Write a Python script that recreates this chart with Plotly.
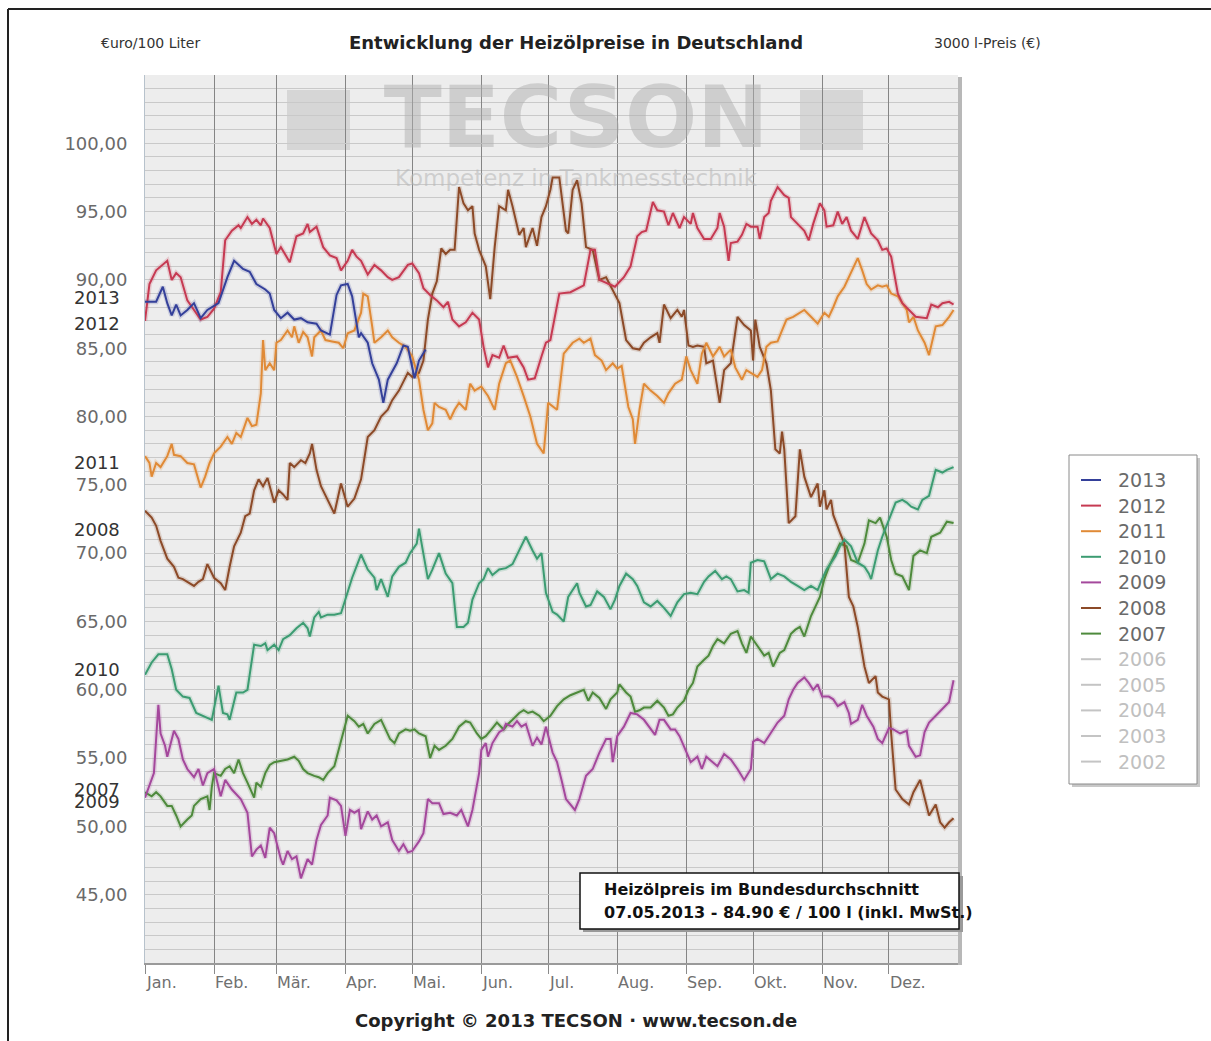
import plotly.graph_objects as go

# ---------------------------------------------------------------------------
# Achsen / Beschriftungen
# ---------------------------------------------------------------------------
month_start_days = [0, 31, 59, 90, 120, 151, 181, 212, 243, 273, 304, 334]
month_labels = ["Jan.", "Feb.", "Mär.", "Apr.", "Mai.", "Jun.", "Jul.",
                "Aug.", "Sep.", "Okt.", "Nov.", "Dez."]
price_ticks = [45, 50, 55, 60, 65, 70, 75, 80, 85, 90, 95, 100]      # €/100 l
tank_ticks = [1350, 1500, 1650, 1800, 1950, 2100, 2250, 2400, 2550, 2700, 2850, 3000]  # 3000 l
legend_years = ["2013", "2012", "2011", "2010", "2009", "2008", "2007",
                "2006", "2005", "2004", "2003", "2002"]

# Jahresbeschriftung links (Preis zum Jahresbeginn)
start_label_years = ["2013", "2012", "2011", "2008", "2010", "2007", "2009"]
start_label_values = [88.7, 86.8, 76.6, 71.7, 61.5, 52.7, 51.8]

# ---------------------------------------------------------------------------
# Heizölpreise (Tag im Jahr, €/100 l)
# ---------------------------------------------------------------------------
day_2013 = [0, 5, 8, 10, 12, 14, 16, 19, 22, 25, 28, 30, 33, 37, 40, 44, 47, 50, 54,
            56, 58, 61, 64, 67, 70, 73, 77, 79, 83, 86, 88, 91, 93, 96, 97, 100, 102,
            105, 107, 109, 113, 116, 118, 121, 123, 126]
price_2013 = [88.4, 88.4, 89.5, 88.3, 87.4, 88.2, 87.4, 87.8, 88.3, 87.2, 87.8, 88.0,
              88.3, 90.2, 91.4, 90.8, 90.6, 89.7, 89.3, 89.0, 87.8, 87.2, 87.6, 87.1,
              87.2, 86.9, 86.8, 86.3, 86.0, 88.9, 89.6, 89.7, 88.8, 85.8, 86.1, 85.4,
              83.9, 82.7, 81.0, 82.7, 83.9, 85.2, 85.1, 82.8, 84.1, 84.9]

day_2012 = [0, 2, 5, 7, 10, 12, 14, 16, 19, 22, 25, 28, 31, 34, 36, 39, 42, 43, 46, 48,
            50, 52, 53, 56, 59, 61, 65, 68, 71, 73, 74, 77, 80, 83, 86, 88, 91, 93, 95,
            97, 100, 103, 106, 109, 111, 114, 118, 120, 123, 125, 128, 131, 134, 136,
            138, 141, 144, 147, 150, 152, 154, 156, 159, 161, 163, 167, 170, 172, 175,
            178, 180, 182, 186, 191, 197, 200, 202, 204, 208, 211, 215, 218, 221, 223,
            225, 228, 230, 233, 235, 237, 240, 242, 245, 246, 248, 251, 254, 257, 258,
            260, 262, 263, 266, 268, 270, 272, 275, 276, 278, 280, 281, 284, 287, 289,
            290, 293, 296, 298, 300, 303, 305, 306, 309, 311, 313, 315, 317, 320, 323,
            326, 329, 331, 333, 335, 338, 340, 343, 346, 351, 353, 356, 358, 361, 363]
price_2012 = [87.0, 89.7, 90.7, 91.0, 91.4, 90.0, 90.5, 90.2, 88.5, 87.8, 87.1, 87.3,
              87.9, 89.1, 92.9, 93.6, 94.0, 93.8, 94.6, 94.1, 94.4, 94.0, 94.5, 93.8,
              91.9, 92.4, 91.3, 93.2, 93.4, 94.1, 93.5, 93.9, 92.4, 91.8, 91.6, 90.7,
              91.4, 92.2, 91.7, 91.4, 90.4, 91.1, 90.7, 90.2, 90.0, 90.2, 91.1, 91.2,
              90.5, 89.4, 88.9, 88.5, 88.0, 88.4, 87.1, 86.6, 86.9, 87.6, 87.1, 85.1,
              83.6, 84.5, 84.3, 85.2, 84.3, 84.4, 83.6, 82.7, 82.8, 84.4, 85.4, 85.6,
              89.0, 89.1, 89.6, 92.2, 92.2, 90.0, 89.7, 89.5, 90.2, 91.0, 93.2, 93.5,
              93.6, 95.7, 95.1, 95.0, 94.0, 94.9, 93.8, 94.6, 94.1, 94.9, 93.8, 93.0,
              93.0, 93.8, 94.9, 93.9, 91.4, 92.7, 92.8, 93.3, 94.1, 93.9, 93.9, 93.0,
              94.6, 94.9, 95.8, 96.8, 96.2, 96.0, 94.6, 94.1, 93.6, 92.9, 94.1, 95.6,
              95.1, 93.9, 94.0, 95.0, 94.1, 94.6, 93.6, 93.0, 94.6, 93.4, 92.9, 92.2,
              92.3, 91.7, 89.0, 88.3, 87.8, 87.3, 87.2, 88.2, 88.0, 88.3, 88.4, 88.2]

day_2011 = [0, 2, 3, 5, 7, 10, 12, 13, 16, 19, 22, 25, 27, 29, 31, 34, 37, 39, 41, 43,
            46, 48, 50, 52, 53, 54, 56, 58, 59, 61, 64, 66, 67, 69, 71, 73, 75, 76, 79,
            81, 84, 87, 89, 91, 94, 97, 98, 100, 102, 103, 106, 109, 111, 114, 117, 120,
            123, 125, 127, 129, 130, 132, 135, 137, 139, 141, 144, 146, 148, 151, 154,
            157, 159, 162, 164, 167, 170, 173, 176, 179, 181, 185, 188, 192, 195, 197,
            200, 202, 205, 207, 210, 212, 214, 217, 219, 220, 222, 224, 227, 230, 233,
            235, 238, 241, 243, 245, 248, 250, 252, 255, 258, 260, 263, 265, 268, 270,
            272, 275, 277, 279, 281, 284, 286, 288, 291, 294, 296, 299, 302, 305, 307,
            309, 311, 314, 317, 320, 322, 324, 326, 329, 331, 333, 335, 338, 342, 343,
            345, 347, 350, 352, 355, 358, 361, 363]
price_2011 = [77.1, 76.6, 75.6, 76.6, 76.3, 77.1, 78.0, 77.2, 77.1, 76.6, 76.5, 74.8,
              75.6, 76.6, 77.3, 77.8, 78.5, 78.0, 78.8, 78.5, 79.9, 79.3, 79.4, 81.7,
              85.6, 83.4, 83.9, 83.4, 85.4, 85.6, 86.3, 85.8, 86.6, 85.4, 86.2, 85.8,
              84.4, 85.8, 86.3, 85.6, 85.5, 85.4, 85.0, 86.1, 86.3, 87.6, 89.0, 88.8,
              86.6, 85.4, 85.8, 86.3, 85.8, 85.4, 85.1, 84.4, 82.7, 80.5, 79.0, 79.5,
              81.0, 80.7, 80.5, 79.8, 80.5, 81.0, 80.5, 82.4, 81.9, 82.2, 81.5, 80.5,
              82.4, 83.9, 84.1, 82.9, 81.5, 80.0, 78.0, 77.3, 81.0, 80.5, 84.6, 85.4,
              85.7, 85.4, 85.7, 84.5, 84.1, 83.4, 83.9, 83.5, 83.7, 80.7, 79.8, 78.0,
              80.5, 82.4, 81.9, 81.5, 81.0, 81.7, 82.4, 82.7, 84.4, 83.4, 82.4, 84.6,
              85.4, 84.4, 85.1, 84.4, 84.9, 83.6, 82.7, 83.4, 83.2, 82.9, 83.4, 85.1,
              85.4, 85.5, 86.3, 87.1, 87.3, 87.6, 87.8, 87.3, 86.8, 87.6, 87.3, 88.0,
              88.8, 89.5, 90.5, 91.6, 90.7, 89.7, 89.3, 89.6, 89.5, 89.6, 89.0, 88.8,
              87.8, 86.9, 87.3, 86.3, 85.4, 84.5, 86.6, 86.7, 87.3, 87.8]

day_2010 = [0, 3, 6, 10, 12, 14, 17, 20, 23, 26, 30, 33, 35, 37, 38, 41, 44, 46, 49,
            52, 54, 55, 58, 60, 62, 65, 68, 71, 73, 74, 76, 78, 79, 82, 85, 88, 90, 93,
            97, 100, 103, 104, 106, 109, 111, 114, 117, 119, 122, 123, 127, 129, 132,
            135, 138, 140, 143, 145, 147, 150, 152, 154, 156, 159, 162, 165, 168, 171,
            174, 176, 178, 180, 183, 185, 188, 190, 192, 194, 195, 198, 200, 203, 206,
            209, 211, 213, 216, 219, 221, 224, 227, 230, 233, 236, 239, 242, 245, 248,
            251, 253, 256, 259, 261, 263, 266, 269, 271, 272, 275, 278, 281, 284, 287,
            290, 293, 296, 299, 302, 304, 306, 308, 310, 312, 314, 317, 320, 323, 325,
            326, 329, 331, 333, 335, 337, 340, 342, 344, 347, 349, 352, 355, 358, 360,
            363]
price_2010 = [61.1, 62.0, 62.6, 62.6, 61.5, 60.0, 59.5, 59.4, 58.3, 58.1, 57.8, 60.3,
              58.3, 58.2, 57.8, 59.8, 59.8, 60.0, 63.3, 63.2, 63.4, 62.9, 63.3, 62.9,
              63.7, 64.0, 64.5, 64.9, 64.5, 63.9, 65.3, 65.7, 65.3, 65.5, 65.5, 65.6,
              66.7, 68.2, 69.9, 68.8, 68.2, 67.3, 68.1, 66.8, 68.3, 69.0, 69.3, 70.0,
              70.7, 71.8, 68.1, 68.8, 70.0, 68.5, 67.8, 64.6, 64.6, 64.9, 66.6, 67.8,
              68.1, 68.9, 68.4, 68.8, 68.9, 69.2, 70.2, 71.2, 70.2, 69.6, 70.0, 67.1,
              65.7, 65.5, 65.0, 66.8, 67.3, 67.8, 67.1, 66.1, 66.2, 67.2, 66.8, 65.9,
              66.6, 67.6, 68.5, 68.1, 67.6, 66.4, 66.1, 66.5, 66.0, 65.4, 66.4, 67.0,
              67.1, 67.0, 67.9, 68.3, 68.7, 68.1, 68.3, 68.1, 67.2, 67.3, 67.1, 69.3,
              69.5, 69.4, 68.1, 68.5, 68.3, 67.9, 67.6, 67.3, 67.6, 67.3, 68.1, 68.8,
              69.3, 69.8, 70.5, 71.0, 70.5, 69.3, 69.0, 68.5, 68.1, 70.2, 71.2, 72.0,
              72.9, 73.7, 73.9, 73.7, 73.4, 73.2, 73.9, 74.2, 76.1, 75.9, 76.1, 76.3]

day_2009 = [0, 2, 4, 6, 7, 9, 10, 13, 15, 17, 19, 22, 24, 26, 28, 31, 34, 36, 39, 43,
            46, 48, 50, 52, 54, 56, 58, 61, 62, 64, 66, 68, 70, 73, 75, 77, 79, 82, 83,
            86, 88, 90, 92, 94, 96, 97, 100, 102, 104, 106, 109, 111, 114, 116, 118,
            120, 123, 125, 127, 129, 132, 134, 137, 140, 142, 145, 147, 150, 151, 153,
            154, 156, 159, 161, 162, 165, 167, 169, 171, 174, 176, 178, 180, 183, 185,
            187, 189, 193, 195, 198, 201, 204, 207, 209, 210, 212, 215, 218, 221, 224,
            227, 229, 231, 233, 236, 238, 240, 243, 245, 248, 250, 252, 255, 257, 260,
            263, 266, 269, 272, 273, 275, 278, 280, 282, 284, 287, 289, 291, 293, 296,
            298, 300, 302, 304, 307, 309, 311, 314, 316, 317, 320, 322, 324, 327, 329,
            331, 334, 336, 339, 342, 343, 346, 348, 350, 352, 355, 358, 361, 363]
price_2009 = [52.1, 53.0, 53.9, 58.9, 56.8, 55.9, 55.1, 57.0, 56.4, 54.9, 54.2, 53.6,
              54.2, 53.0, 53.9, 54.2, 52.2, 53.4, 52.7, 52.0, 51.0, 47.8, 48.3, 48.6,
              47.7, 49.9, 49.5, 47.6, 47.2, 48.2, 47.6, 47.8, 46.2, 47.6, 47.2, 49.0,
              50.1, 50.8, 52.1, 51.9, 51.5, 49.3, 51.2, 51.0, 51.2, 49.8, 51.1, 50.5,
              50.8, 50.0, 50.3, 49.0, 48.2, 48.7, 48.1, 48.2, 48.9, 49.5, 52.0, 51.7,
              51.7, 50.9, 51.0, 50.8, 51.2, 50.0, 51.2, 53.9, 55.6, 56.1, 55.1, 56.1,
              56.9, 57.1, 57.5, 57.3, 57.7, 57.3, 57.5, 55.9, 56.5, 56.0, 57.3, 55.4,
              54.7, 53.4, 52.0, 51.2, 52.0, 53.7, 54.2, 55.4, 56.4, 56.4, 54.7, 56.6,
              57.3, 58.3, 58.2, 57.8, 57.1, 56.7, 57.8, 57.8, 57.1, 57.1, 56.6, 55.4,
              54.7, 55.1, 54.2, 55.1, 54.7, 54.4, 55.3, 54.9, 54.2, 53.4, 54.2, 56.2,
              56.4, 56.1, 56.6, 57.1, 57.6, 58.1, 59.3, 60.0, 60.5, 60.9, 60.5, 60.0,
              60.4, 59.5, 59.5, 59.3, 58.8, 59.1, 58.3, 57.5, 57.8, 58.9, 58.1, 57.3,
              56.4, 56.1, 57.2, 57.1, 56.8, 57.0, 55.9, 55.1, 55.2, 56.9, 57.6, 58.1,
              58.6, 59.1, 60.7]

day_2008 = [0, 3, 5, 7, 10, 13, 15, 17, 19, 22, 24, 26, 28, 31, 34, 36, 38, 40, 43,
            45, 47, 49, 51, 53, 55, 58, 60, 62, 64, 65, 67, 70, 72, 74, 75, 77, 79, 82,
            85, 88, 91, 94, 97, 100, 103, 106, 109, 111, 114, 118, 120, 123, 125, 127,
            129, 131, 132, 133, 135, 137, 139, 141, 143, 145, 147, 148, 150, 153, 155,
            157, 159, 162, 163, 165, 168, 170, 171, 174, 176, 178, 180, 182, 183, 186,
            189, 190, 192, 194, 196, 197, 198, 201, 204, 207, 210, 213, 216, 219, 222,
            224, 227, 230, 231, 233, 236, 239, 241, 242, 244, 246, 248, 251, 252, 255,
            258, 260, 263, 266, 269, 272, 273, 274, 276, 279, 281, 283, 285, 286, 287,
            289, 292, 294, 296, 299, 302, 303, 305, 306, 308, 309, 312, 314, 316, 318,
            320, 323, 325, 328, 329, 331, 334, 335, 337, 340, 343, 345, 348, 350, 352,
            355, 357, 359, 361, 363]
price_2008 = [73.1, 72.6, 72.0, 70.9, 69.6, 69.0, 68.2, 68.1, 67.9, 67.6, 67.9, 68.1,
              69.2, 68.2, 67.8, 67.3, 69.0, 70.5, 71.5, 72.7, 72.9, 74.6, 75.4, 74.9,
              75.5, 73.7, 74.6, 74.3, 73.9, 76.6, 76.3, 76.8, 76.6, 77.3, 78.0, 76.1,
              74.9, 73.9, 72.9, 75.1, 73.4, 74.0, 75.4, 78.5, 79.0, 80.0, 80.5, 81.2,
              81.9, 83.2, 82.9, 83.2, 84.1, 87.1, 89.0, 89.9, 91.0, 92.3, 91.9, 92.2,
              92.2, 96.8, 95.6, 95.1, 95.4, 93.4, 92.2, 91.0, 88.6, 92.4, 95.4, 95.1,
              96.6, 95.4, 93.3, 93.8, 92.4, 93.8, 92.5, 94.6, 95.4, 96.6, 97.5, 97.5,
              93.6, 93.4, 96.6, 97.3, 95.6, 93.9, 92.4, 92.2, 90.0, 90.2, 89.3, 88.3,
              85.6, 85.0, 84.9, 85.4, 85.8, 86.1, 85.4, 88.2, 87.2, 87.8, 87.3, 87.8,
              85.2, 85.1, 85.2, 85.1, 83.9, 84.1, 81.0, 83.4, 83.9, 87.3, 86.7, 86.3,
              84.1, 87.1, 85.1, 83.9, 81.9, 77.6, 77.3, 78.9, 77.6, 72.2, 72.7, 77.6,
              75.6, 74.1, 75.1, 73.4, 74.6, 73.2, 73.9, 72.8, 71.5, 70.7, 66.8, 66.1,
              64.6, 61.7, 60.5, 61.0, 59.8, 59.5, 59.3, 56.8, 52.7, 52.0, 51.6, 52.5,
              53.4, 52.0, 50.8, 51.6, 50.3, 49.9, 50.3, 50.6]

day_2007 = [0, 3, 5, 7, 10, 12, 14, 16, 19, 21, 22, 25, 28, 29, 30, 31, 34, 36, 38,
            40, 42, 44, 46, 49, 50, 52, 54, 56, 58, 61, 64, 67, 69, 71, 73, 76, 78, 80,
            82, 85, 87, 89, 91, 94, 96, 98, 100, 103, 106, 108, 110, 112, 114, 117, 119,
            121, 123, 126, 128, 130, 132, 135, 138, 141, 144, 146, 149, 151, 153, 156,
            158, 161, 163, 165, 168, 170, 172, 174, 177, 179, 182, 185, 188, 191, 194,
            197, 199, 201, 204, 207, 209, 212, 213, 216, 218, 220, 222, 224, 227, 230,
            233, 235, 237, 239, 242, 244, 246, 248, 251, 253, 255, 257, 260, 263, 266,
            268, 270, 272, 275, 278, 280, 282, 285, 287, 290, 292, 294, 296, 299, 301,
            303, 305, 307, 310, 312, 315, 317, 320, 323, 325, 328, 330, 333, 335, 337,
            340, 343, 345, 348, 351, 353, 357, 360, 363]
price_2007 = [52.5, 52.2, 52.5, 52.2, 51.5, 51.5, 50.8, 50.0, 50.5, 50.8, 51.5, 52.0,
              52.2, 51.2, 52.9, 53.9, 53.7, 54.2, 54.4, 53.9, 54.9, 53.9, 53.2, 52.1,
              53.2, 52.9, 53.9, 54.5, 54.7, 54.8, 54.9, 55.1, 54.8, 54.2, 53.9, 53.7,
              53.6, 53.4, 53.9, 54.4, 55.6, 56.8, 58.1, 57.7, 57.3, 57.5, 56.8, 57.5,
              57.8, 57.1, 56.4, 56.1, 56.8, 57.1, 57.0, 57.1, 56.8, 56.6, 55.0, 55.9,
              55.6, 55.9, 56.4, 57.3, 57.7, 57.6, 56.8, 56.4, 56.6, 57.2, 57.6, 57.1,
              57.5, 57.8, 58.3, 58.5, 58.3, 58.4, 58.1, 57.7, 58.1, 58.8, 59.3, 59.6,
              59.8, 60.0, 59.2, 59.8, 59.4, 58.6, 59.3, 59.8, 60.4, 59.8, 59.5, 58.4,
              58.5, 58.7, 58.7, 59.2, 58.7, 58.1, 58.2, 58.7, 59.2, 60.0, 60.5, 61.7,
              62.2, 62.5, 63.2, 63.7, 63.4, 64.1, 64.3, 63.4, 62.7, 63.9, 63.2, 62.5,
              62.7, 61.7, 62.7, 62.9, 64.1, 64.4, 64.6, 63.9, 65.4, 66.1, 66.8, 68.1,
              69.0, 70.0, 70.7, 70.5, 69.5, 69.3, 70.7, 72.4, 72.2, 72.6, 71.2, 69.5,
              68.5, 68.3, 67.3, 69.8, 70.2, 70.0, 71.2, 71.5, 72.3, 72.2]

series = [
    ("2013", day_2013, price_2013, "#34409a"),
    ("2012", day_2012, price_2012, "#c63a52"),
    ("2011", day_2011, price_2011, "#e08a36"),
    ("2010", day_2010, price_2010, "#3c9c72"),
    ("2009", day_2009, price_2009, "#a4489c"),
    ("2008", day_2008, price_2008, "#8c4a28"),
    ("2007", day_2007, price_2007, "#4e8a3c"),
]
legend_colors = {name: col for name, _, _, col in series}
hidden_color = "#c4c4c4"

# ---------------------------------------------------------------------------
# Pixel-Helfer für die Platzierung von Rahmen und Texten
# ---------------------------------------------------------------------------
W, H = 1211, 1041
PL, PR, PT, PB = 145, 958, 75, 963


def px(x):
    return (x - PL) / (PR - PL)


def py(y):
    return (PB - y) / (PB - PT)


FONT = "DejaVu Sans, Verdana, sans-serif"

fig = go.Figure()

# Wasserzeichen (unter den Kurven)
fig.add_trace(go.Scatter(
    x=[193.5], y=[101.3], mode="text", text=["TECSON"],
    textfont=dict(family="DejaVu Sans, sans-serif", size=85, color="rgba(175,175,175,0.5)",
                  weight="bold"),
    hoverinfo="skip", showlegend=False))
fig.add_trace(go.Scatter(
    x=[193.5], y=[97.3], mode="text", text=["Kompetenz in Tankmesstechnik"],
    textfont=dict(family=FONT, size=23, color="rgba(185,185,185,0.6)"),
    hoverinfo="skip", showlegend=False))

# Kurven: zarter Schein + eigentliche Linie
for name, d, p, col in reversed(series):
    fig.add_trace(go.Scatter(x=d, y=p, mode="lines", line=dict(color=col, width=5),
                             opacity=0.18, hoverinfo="skip", showlegend=False))
for name, d, p, col in reversed(series):
    fig.add_trace(go.Scatter(x=d, y=p, mode="lines", name=name,
                             line=dict(color=col, width=2), showlegend=False))

shapes = []
# Wasserzeichen-Blöcke
shapes.append(dict(type="rect", xref="paper", yref="paper", layer="below",
                   x0=px(287), x1=px(350), y0=py(150), y1=py(90),
                   fillcolor="#d6d6d6", line=dict(width=0)))
shapes.append(dict(type="rect", xref="paper", yref="paper", layer="below",
                   x0=px(800), x1=px(863), y0=py(150), y1=py(90),
                   fillcolor="#d6d6d6", line=dict(width=0)))
# Schatten rechts am Diagrammbereich
shapes.append(dict(type="rect", xref="paper", yref="paper",
                   x0=px(958), x1=px(962), y0=py(965), y1=py(77),
                   fillcolor="#b8b8b8", line=dict(width=0)))
# Rahmen links / oben
shapes.append(dict(type="line", xref="paper", yref="paper",
                   x0=px(8), x1=px(1211), y0=py(9), y1=py(9),
                   line=dict(color="#222", width=2)))
shapes.append(dict(type="line", xref="paper", yref="paper",
                   x0=px(8), x1=px(8), y0=py(9), y1=py(1041),
                   line=dict(color="#222", width=2)))

# Info-Box
shapes.append(dict(type="rect", xref="paper", yref="paper",
                   x0=px(583), x1=px(963), y0=py(932), y1=py(876),
                   fillcolor="#9a9a9a", line=dict(width=0)))
shapes.append(dict(type="rect", xref="paper", yref="paper",
                   x0=px(580), x1=px(959), y0=py(929), y1=py(873),
                   fillcolor="white", line=dict(color="#111", width=1.5)))

# Legende
LX0, LX1, LY0, LY1 = 1069, 1197, 455, 784
shapes.append(dict(type="rect", xref="paper", yref="paper",
                   x0=px(LX0 + 3), x1=px(LX1 + 3), y0=py(LY1 + 3), y1=py(LY0 + 3),
                   fillcolor="#c8c8c8", line=dict(width=0)))
shapes.append(dict(type="rect", xref="paper", yref="paper",
                   x0=px(LX0), x1=px(LX1), y0=py(LY1), y1=py(LY0),
                   fillcolor="white", line=dict(color="#8a8a8a", width=1)))

annotations = []
for i, yr in enumerate(legend_years):
    yy = 480 + i * 25.6
    col = legend_colors.get(yr, hidden_color)
    txt_col = "#6a6a6a" if yr in legend_colors else "#c0c0c0"
    shapes.append(dict(type="line", xref="paper", yref="paper",
                       x0=px(1081), x1=px(1101), y0=py(yy), y1=py(yy),
                       line=dict(color=col, width=2)))
    annotations.append(dict(xref="paper", yref="paper", x=px(1116), y=py(yy),
                            text=yr, showarrow=False, xanchor="left", yanchor="middle",
                            font=dict(family=FONT, size=19, color=txt_col)))

# Monatsnamen (linksbündig am Monatsbeginn)
for d, lab in zip(month_start_days, month_labels):
    annotations.append(dict(xref="x", yref="paper", x=d, y=py(982), text=lab,
                            showarrow=False, xanchor="left", yanchor="middle", xshift=-1,
                            font=dict(family=FONT, size=16, color="#707070")))

# Jahresbeschriftungen links
for yr, v in zip(start_label_years, start_label_values):
    annotations.append(dict(xref="paper", yref="y", x=px(122), y=v, text=yr,
                            showarrow=False, xanchor="right", yanchor="middle",
                            font=dict(family=FONT, size=18, color="#333333")))

# Kopfzeile
annotations.append(dict(xref="paper", yref="paper", x=px(99), y=py(43),
                        text="€uro/100 Liter", showarrow=False, xanchor="left",
                        yanchor="middle", font=dict(family=FONT, size=14, color="#333")))
annotations.append(dict(xref="paper", yref="paper", x=px(576), y=py(43),
                        text="<b>Entwicklung der Heizölpreise in Deutschland</b>",
                        showarrow=False, xanchor="center", yanchor="middle",
                        font=dict(family=FONT, size=18, color="#222")))
annotations.append(dict(xref="paper", yref="paper", x=px(1043), y=py(43),
                        text="3000 l-Preis (€)", showarrow=False, xanchor="right",
                        yanchor="middle", font=dict(family=FONT, size=14, color="#333")))

# Info-Text
annotations.append(dict(xref="paper", yref="paper", x=px(602), y=py(889),
                        text="<b>Heizölpreis im Bundesdurchschnitt</b>",
                        showarrow=False, xanchor="left", yanchor="middle",
                        font=dict(family=FONT, size=16, color="#111")))
annotations.append(dict(xref="paper", yref="paper", x=px(602), y=py(912),
                        text="<b>07.05.2013 - 84.90 € / 100 l (inkl. MwSt.)</b>",
                        showarrow=False, xanchor="left", yanchor="middle",
                        font=dict(family=FONT, size=16, color="#111")))

# Copyright
annotations.append(dict(xref="paper", yref="paper", x=px(576), y=py(1021),
                        text="<b>Copyright © 2013 TECSON · www.tecson.de</b>",
                        showarrow=False, xanchor="center", yanchor="middle",
                        font=dict(family=FONT, size=18, color="#222")))

fig.update_layout(
    width=W, height=H, autosize=False,
    margin=dict(l=PL, r=W - PR, t=PT, b=H - PB, pad=0),
    paper_bgcolor="white", plot_bgcolor="#ededed",
    separators=",.",
    showlegend=False,
    shapes=shapes, annotations=annotations,
    xaxis=dict(range=[0, 365], tickvals=month_start_days, showticklabels=False,
               showgrid=True, gridcolor="#858585", gridwidth=1,
               ticks="outside", ticklen=9, tickcolor="#8a8a8a",
               showline=True, linecolor="#9a9a9a", linewidth=2, zeroline=False,
               fixedrange=True),
    yaxis=dict(range=[40, 105], tickvals=price_ticks, tickformat=".2f",
               showgrid=True, gridcolor="#c9c9c9", gridwidth=1,
               minor=dict(dtick=1, tick0=0, showgrid=True, gridcolor="#c9c9c9", gridwidth=1),
               ticks="outside", ticklen=13, tickcolor="rgba(0,0,0,0)",
               tickfont=dict(family=FONT, size=18, color="#6a6a6a"),
               showline=True, linecolor="#b7c2cc", linewidth=1, zeroline=False),
    yaxis2=dict(range=[1200, 3150], tickvals=tank_ticks, tickformat=".2f",
                overlaying="y", side="right", showgrid=False, zeroline=False,
                ticks="outside", ticklen=10, tickcolor="rgba(0,0,0,0)",
                tickfont=dict(family=FONT, size=18, color="#6a6a6a"),
                showline=False),
)

fig.write_html("out.html")
